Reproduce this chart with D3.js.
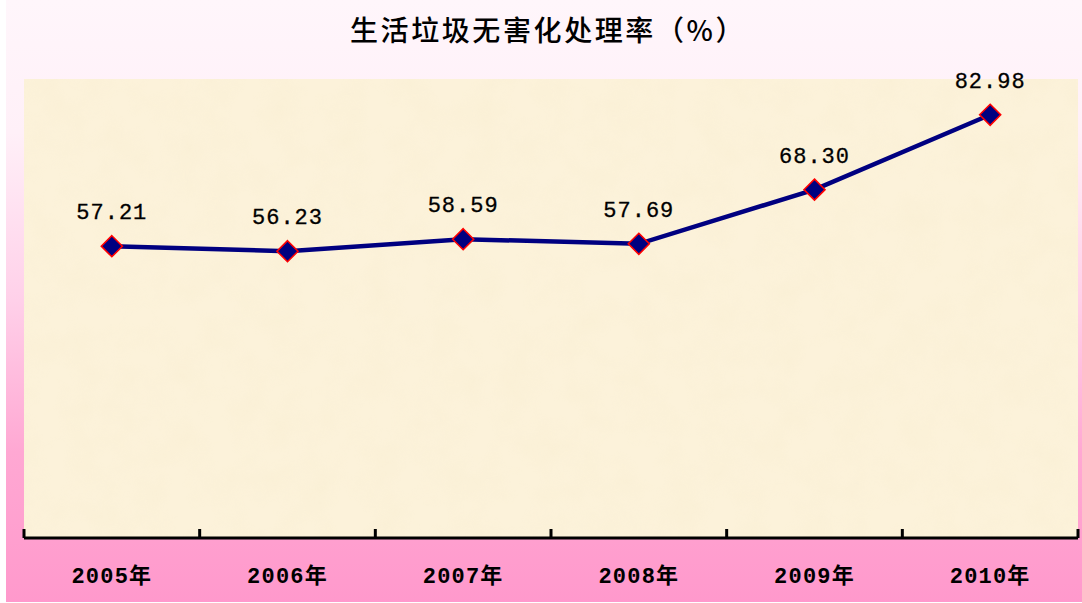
<!DOCTYPE html>
<html>
<head>
<meta charset="utf-8">
<script src="https://cdn.jsdelivr.net/npm/d3@7"></script>
<style>
  html, body { margin: 0; padding: 0; background: #fff; }
  svg { display: block; }
</style>
</head>
<body>
<svg id="chart" width="1082" height="603"></svg>
<script>
const years = ["2005年", "2006年", "2007年", "2008年", "2009年", "2010年"];
const rates = [57.21, 56.23, 58.59, 57.69, 68.30, 82.98];
const chartTitle = "生活垃圾无害化处理率（%）";

const svg = d3.select("#chart");
const plot = { left: 24, right: 1078, top: 79, bottom: 538 };

const defs = svg.append("defs");
const grad = defs.append("linearGradient")
  .attr("id", "bg-grad").attr("x1", 0).attr("y1", 0).attr("x2", 0).attr("y2", 1);
[[0, "#fff6fb"], [0.22, "#fff0f8"], [0.5, "#ffd0e9"], [0.75, "#ffa8d3"], [1, "#ff99cc"]]
  .forEach(([o, c]) => grad.append("stop").attr("offset", o).attr("stop-color", c));

const paper = defs.append("filter").attr("id", "paper")
  .attr("x", 0).attr("y", 0).attr("width", 1).attr("height", 1);
paper.append("feTurbulence").attr("type", "fractalNoise")
  .attr("baseFrequency", "0.03").attr("numOctaves", 3).attr("seed", 4).attr("result", "noise");
paper.append("feColorMatrix").attr("in", "noise").attr("type", "matrix")
  .attr("values", "0 0 0 0 0.93  0 0 0 0 0.84  0 0 0 0 0.62  0 0 0 -1.4 0.9");

svg.append("rect").attr("x", 6).attr("y", 0).attr("width", 1076).attr("height", 602)
  .attr("fill", "url(#bg-grad)");

svg.append("rect")
  .attr("x", plot.left).attr("y", plot.top)
  .attr("width", plot.right - plot.left).attr("height", plot.bottom - plot.top)
  .attr("fill", "#fcf2da");
svg.append("rect")
  .attr("x", plot.left).attr("y", plot.top)
  .attr("width", plot.right - plot.left).attr("height", plot.bottom - plot.top)
  .attr("fill", "#000").attr("filter", "url(#paper)").attr("opacity", 0.4);

const x = d3.scaleBand().domain(years).range([plot.left, plot.right]).padding(0);
const y = d3.scaleLinear().domain([0, 90]).range([plot.bottom, plot.top]);
const cx = (d) => x(d) + x.bandwidth() / 2;

svg.append("text")
  .attr("x", 548).attr("y", 41)
  .attr("text-anchor", "middle")
  .attr("font-family", "'Noto Sans CJK SC', sans-serif")
  .attr("font-size", 28).attr("font-weight", 500)
  .attr("letter-spacing", 2.6)
  .attr("fill", "#000")
  .text(chartTitle);

// axis line with boundary ticks pointing up
const edges = years.map((d) => x(d)).concat([plot.right]);
svg.append("line")
  .attr("x1", plot.left).attr("x2", plot.right)
  .attr("y1", plot.bottom).attr("y2", plot.bottom)
  .attr("stroke", "#000").attr("stroke-width", 3);
svg.selectAll("line.tick").data(edges).join("line")
  .attr("class", "tick")
  .attr("x1", (d) => d).attr("x2", (d) => d)
  .attr("y1", plot.bottom).attr("y2", plot.bottom - 9)
  .attr("stroke", "#000").attr("stroke-width", 3);

const xAxis = svg.append("g")
  .attr("transform", `translate(0,${plot.bottom})`)
  .call(d3.axisBottom(x).tickSize(0).tickPadding(29));
xAxis.select(".domain").remove();
xAxis.selectAll("text")
  .attr("font-family", "'Liberation Mono', 'Noto Sans CJK SC', monospace")
  .attr("font-size", 22).attr("font-weight", "bold")
  .attr("letter-spacing", 1.2)
  .attr("fill", "#000");

const series = years.map((d, i) => ({ year: d, value: rates[i] }));

svg.append("path")
  .datum(series)
  .attr("fill", "none")
  .attr("stroke", "#000080").attr("stroke-width", 4.5)
  .attr("d", d3.line().x((d) => cx(d.year)).y((d) => y(d.value)));

svg.selectAll("path.marker").data(series).join("path")
  .attr("class", "marker")
  .attr("transform", (d) => `translate(${cx(d.year)},${y(d.value)})`)
  .attr("d", "M0,-10.5L10.5,0L0,10.5L-10.5,0Z")
  .attr("fill", "#000080").attr("stroke", "#ff0000").attr("stroke-width", 1.6);

svg.selectAll("text.value").data(series).join("text")
  .attr("class", "value")
  .attr("x", (d) => cx(d.year))
  .attr("y", (d) => y(d.value) - 27)
  .attr("text-anchor", "middle")
  .attr("font-family", "'Liberation Mono', monospace")
  .attr("font-size", 22)
  .attr("letter-spacing", 1)
  .attr("stroke", "#000").attr("stroke-width", 0.3)
  .attr("fill", "#000")
  .text((d) => d.value.toFixed(2));
</script>
</body>
</html>
